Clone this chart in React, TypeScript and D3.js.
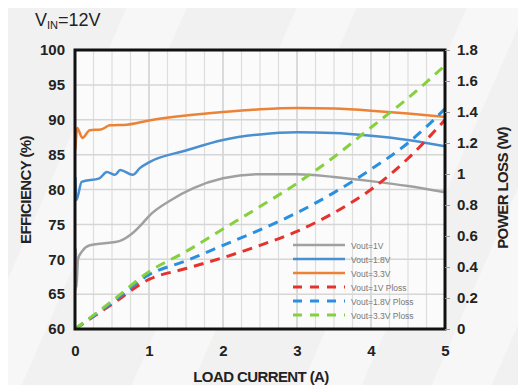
import { useRef, useEffect } from "react";
import * as d3 from "d3";

// efficiency curves (load current A, efficiency %)
const eff1V = [
  [0.005, 65.5], [0.01, 71.5], [0.02, 66], [0.04, 70], [0.1, 71.2], [0.2, 72], [0.4, 72.3],
  [0.6, 72.6], [0.75, 73.5], [0.9, 75], [1.0, 76.2], [1.3, 78.5], [1.6, 80.2], [2.0, 81.6],
  [2.5, 82.2], [3.0, 82.2], [3.5, 81.8], [4.0, 81.2], [4.5, 80.5], [5.0, 79.6],
];
const eff18V = [
  [0.005, 81.8], [0.02, 78.5], [0.09, 81.1], [0.33, 81.6], [0.43, 82.5], [0.54, 82.1],
  [0.61, 82.8], [0.78, 82.1], [0.88, 83.1], [1.0, 83.9], [1.5, 85.6], [2.0, 87.1],
  [2.5, 87.9], [3.0, 88.2], [3.5, 88.1], [4.0, 87.7], [4.5, 87.1], [5.0, 86.2],
];
const eff33V = [
  [0.005, 85.7], [0.03, 88.8], [0.1, 87.4], [0.2, 88.5], [0.35, 88.6], [0.47, 89.2], [0.7, 89.3],
  [1.0, 89.9], [1.5, 90.6], [2.0, 91.1], [2.5, 91.5], [3.0, 91.7], [3.5, 91.6], [4.0, 91.3],
  [4.5, 90.9], [5.0, 90.4],
];

// power loss curves (load current A, W)
const loss1V = [[0, 0], [0.5, 0.16], [1.0, 0.32], [1.5, 0.39], [2.0, 0.46], [2.5, 0.54], [3.0, 0.63], [3.5, 0.75], [4.0, 0.9], [4.5, 1.1], [5.0, 1.35]];
const loss18V = [[0, 0], [0.5, 0.17], [1.0, 0.35], [1.5, 0.44], [2.0, 0.54], [2.5, 0.64], [3.0, 0.75], [3.5, 0.88], [4.0, 1.03], [4.5, 1.2], [5.0, 1.42]];
const loss33V = [[0, 0], [0.5, 0.18], [1.0, 0.37], [1.5, 0.5], [2.0, 0.645], [2.5, 0.79], [3.0, 0.94], [3.5, 1.11], [4.0, 1.3], [4.5, 1.49], [5.0, 1.7]];

const xTicks = [0, 1, 2, 3, 4, 5];
const effTicks = [60, 65, 70, 75, 80, 85, 90, 95, 100];
const lossTicks = [0, 0.2, 0.4, 0.6, 0.8, 1, 1.2, 1.4, 1.6, 1.8];

const legendNames = ["Vout=1V", "Vout=1.8V", "Vout=3.3V", "Vout=1V Ploss", "Vout=1.8V Ploss", "Vout=3.3V Ploss"];
const colors = ["#a0a0a0", "#4a8fd0", "#ec8236", "#e6322d", "#2a8fe0", "#86d03e"];

const width = 526;
const height = 389;
const margin = { top: 50, right: 81, bottom: 60, left: 75 };

const App = () => {
  const svgRef = useRef<SVGSVGElement>(null);

  useEffect(() => {
    const svg = d3.select(svgRef.current);
    svg.selectAll("*").remove();

    const x = d3.scaleLinear().domain([0, 5]).range([margin.left, width - margin.right]);
    const y = d3.scaleLinear().domain([60, 100]).range([height - margin.bottom, margin.top]);
    const y2 = d3.scaleLinear().domain([0, 1.8]).range([height - margin.bottom, margin.top]);

    // background
    svg.append("rect").attr("width", width).attr("height", height).attr("fill", "#f1f1f1");
    [-40, 130, 300, 430].forEach((sx) => {
      svg.append("path")
        .attr("d", `M${sx},${height} L${sx + 170},0 L${sx + 230},0 L${sx + 60},${height} Z`)
        .attr("fill", "#f7f7f7");
    });

    svg.append("rect")
      .attr("x", margin.left).attr("y", margin.top)
      .attr("width", x(5) - x(0)).attr("height", y(60) - y(100))
      .attr("fill", "#fbfbfb");

    // grid
    const grid = svg.append("g");
    d3.range(0.25, 5, 0.25).forEach((v) => {
      grid.append("line")
        .attr("x1", x(v)).attr("x2", x(v))
        .attr("y1", y(100)).attr("y2", y(60))
        .attr("stroke", Number.isInteger(v) ? "#cfcfcf" : "#dedede")
        .attr("stroke-width", Number.isInteger(v) ? 1.5 : 1.2);
    });
    effTicks.slice(1, -1).forEach((v) => {
      grid.append("line")
        .attr("x1", x(0)).attr("x2", x(5))
        .attr("y1", y(v)).attr("y2", y(v))
        .attr("stroke", "#d6d6d6").attr("stroke-width", 1.5);
    });

    const lineGen = d3.line<number[]>()
      .x((d) => x(d[0]))
      .y((d) => y(d[1]))
      .curve(d3.curveMonotoneX);
    const lossGen = d3.line<number[]>()
      .x((d) => x(d[0]))
      .y((d) => y2(d[1]))
      .curve(d3.curveMonotoneX);

    [eff1V, eff18V, eff33V].forEach((data, i) => {
      svg.append("path")
        .datum(data)
        .attr("d", lineGen)
        .attr("fill", "none")
        .attr("stroke", colors[i])
        .attr("stroke-width", 2.5);
    });

    [loss1V, loss18V, loss33V].forEach((data, i) => {
      svg.append("path")
        .datum(data)
        .attr("d", lossGen)
        .attr("fill", "none")
        .attr("stroke", colors[i + 3])
        .attr("stroke-width", 3)
        .attr("stroke-dasharray", "10,7");
    });

    const font = "Liberation Sans, Arial, sans-serif";

    // legend
    const legend = svg.append("g").attr("transform", `translate(293,245)`);
    legendNames.forEach((name, i) => {
      const row = legend.append("g").attr("transform", `translate(0,${i * 14})`);
      row.append("line")
        .attr("x1", 0).attr("x2", 52)
        .attr("stroke", colors[i])
        .attr("stroke-width", i < 3 ? 2.5 : 3)
        .attr("stroke-dasharray", i < 3 ? null : "9,8");
      row.append("text")
        .attr("x", 58).attr("y", 3.5)
        .attr("font-size", 8.5)
        .attr("fill", "#777")
        .attr("font-family", font)
        .text(name);
    });

    // frame
    svg.append("rect")
      .attr("x", margin.left).attr("y", margin.top)
      .attr("width", x(5) - x(0)).attr("height", y(60) - y(100))
      .attr("fill", "none").attr("stroke", "#111").attr("stroke-width", 3);

    // left axis
    const left = svg.append("g").attr("transform", `translate(${margin.left},0)`)
      .call(d3.axisLeft(y).tickValues(effTicks).tickSize(0).tickPadding(10));
    left.select(".domain").remove();
    left.selectAll("text").attr("font-size", 15).attr("font-weight", "bold")
      .attr("font-family", font).attr("fill", "#222");

    // right axis
    const right = svg.append("g").attr("transform", `translate(${width - margin.right},0)`)
      .call(d3.axisRight(y2).tickValues(lossTicks).tickSize(5).tickPadding(7)
        .tickFormat((d) => d3.format("~g")(d as number)));
    right.select(".domain").remove();
    right.selectAll("line").attr("stroke", "#999");
    right.selectAll("text").attr("font-size", 15).attr("font-weight", "bold")
      .attr("font-family", font).attr("fill", "#222");

    // bottom axis
    const bottom = svg.append("g").attr("transform", `translate(0,${height - margin.bottom})`)
      .call(d3.axisBottom(x).tickValues(xTicks).tickSize(0).tickPadding(16)
        .tickFormat(d3.format("d")));
    bottom.select(".domain").remove();
    bottom.selectAll("text").attr("font-size", 15).attr("font-weight", "bold")
      .attr("font-family", font).attr("fill", "#222");

    // axis titles
    svg.append("text")
      .attr("x", 261).attr("y", 382)
      .attr("text-anchor", "middle")
      .attr("font-size", 15).attr("font-weight", "bold")
      .attr("font-family", font).attr("fill", "#222")
      .attr("letter-spacing", -0.6)
      .text("LOAD CURRENT (A)");

    svg.append("text")
      .attr("transform", `translate(31,190) rotate(-90)`)
      .attr("text-anchor", "middle")
      .attr("font-size", 15).attr("font-weight", "bold")
      .attr("font-family", font).attr("fill", "#222")
      .attr("letter-spacing", -0.6)
      .text("EFFICIENCY (%)");

    svg.append("text")
      .attr("transform", `translate(508,188) rotate(-90)`)
      .attr("text-anchor", "middle")
      .attr("font-size", 15).attr("font-weight", "bold")
      .attr("font-family", font).attr("fill", "#222")
      .attr("letter-spacing", -0.6)
      .text("POWER LOSS (W)");

    // title
    const title = svg.append("text")
      .attr("x", 35).attr("y", 26)
      .attr("font-size", 18)
      .attr("font-family", font).attr("fill", "#222");
    title.append("tspan").text("V");
    title.append("tspan").attr("font-size", 11).attr("dy", 3).text("IN");
    title.append("tspan").attr("dy", -3).text("=12V");
  }, []);

  return (
    <div style={{ margin: -8 }}>
      <svg ref={svgRef} width={width} height={height}></svg>
    </div>
  );
};

export default App;
